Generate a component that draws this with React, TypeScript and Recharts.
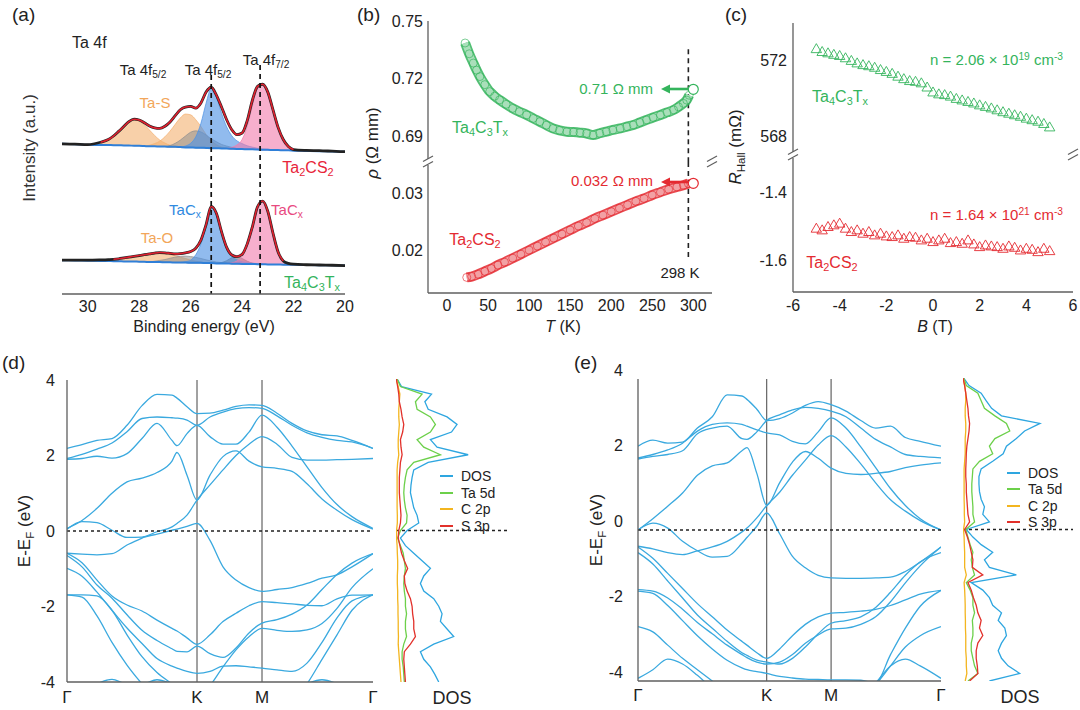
import React from 'react';
import { ComposedChart, Line, Area, Scatter, XAxis, YAxis, ReferenceLine } from 'recharts';

const FONT = '"Liberation Sans", Arial, Helvetica, sans-serif';
const AX = '#5f5f5f';
const GREEN = '#34b45c';
const RED = '#e42a31';
const BAND = '#3aa9df';
const C_DOS = '#2ea6e0';
const C_TA = '#6cd04a';
const C_C = '#f3b51f';
const C_S = '#e2312b';

// ---------------- (a) XPS Ta 4f ----------------
const xpsE = [31, 30.5, 30, 29.5, 29.2, 29, 28.8, 28.6, 28.4, 28.2, 28, 27.8, 27.6, 27.4, 27.2, 27, 26.8, 26.6, 26.4, 26.2, 26, 25.8, 25.6, 25.4, 25.2, 25, 24.8, 24.6, 24.4, 24.2, 24, 23.8, 23.6, 23.4, 23.2, 23, 22.8, 22.6, 22.4, 22.2, 22, 21.5, 21, 20.5, 20];
const ta2Env = [55.4, 55.3, 55.1, 56.0, 57.0, 58.3, 60.0, 61.8, 63.6, 64.5, 64.2, 63.2, 62.0, 61.3, 61.1, 61.9, 63.5, 65.8, 68.0, 69.0, 69.2, 68.6, 70.5, 74.5, 76.3, 73.4, 69.0, 64.3, 60.6, 58.8, 59.4, 64.0, 71.5, 76.6, 77.4, 74.5, 68.0, 61.5, 57.0, 54.4, 53.3, 53.0, 52.9, 52.7, 52.5];
const ta2Base = [55.4, 55.3, 55.1, 55.0, 55.0, 54.9, 54.9, 54.8, 54.8, 54.7, 54.7, 54.6, 54.5, 54.5, 54.4, 54.4, 54.3, 54.3, 54.2, 54.1, 54.1, 54.0, 54.0, 53.9, 53.8, 53.8, 53.7, 53.7, 53.6, 53.5, 53.5, 53.4, 53.4, 53.3, 53.2, 53.2, 53.1, 53.1, 53.0, 53.0, 52.9, 52.8, 52.7, 52.6, 52.5];
const taS1E = [30.5, 30, 29.5, 29.2, 29, 28.8, 28.6, 28.4, 28.2, 28, 27.8, 27.6, 27.4, 27.2, 27, 26.8, 26.6, 26.4];
const taS1H = [0, 0.2, 0.8, 2.0, 3.3, 5.1, 7.0, 8.8, 9.7, 9.3, 7.9, 6.0, 4.0, 2.4, 1.3, 0.6, 0.2, 0];
const taS2E = [27.8, 27.6, 27.4, 27.2, 27, 26.8, 26.6, 26.4, 26.2, 26, 25.8, 25.6, 25.4, 25.2, 25, 24.8, 24.6, 24.4];
const taS2H = [0, 0.4, 1.0, 2.0, 3.6, 5.8, 8.3, 10.8, 12.3, 12.0, 10.3, 7.8, 5.0, 2.8, 1.3, 0.5, 0.1, 0];
const gr1E = [27, 26.8, 26.6, 26.4, 26.2, 26, 25.8, 25.6, 25.4, 25.2, 25, 24.8, 24.6, 24.4, 24.2, 24];
const gr1H = [0, 0.5, 1.3, 2.6, 4.2, 5.6, 6.2, 5.8, 4.8, 3.5, 2.4, 1.5, 0.9, 0.5, 0.2, 0];
const bl1E = [26.4, 26.2, 26, 25.8, 25.6, 25.4, 25.2, 25, 24.8, 24.6, 24.4, 24.2, 24, 23.8, 23.6, 23.4, 23.2, 23, 22.8];
const bl1H = [0, 0.5, 1.5, 4.0, 9.0, 16.5, 22.0, 19.0, 13.0, 8.0, 4.8, 3.0, 2.0, 1.3, 0.8, 0.5, 0.3, 0.2, 0];
const pk1E = [24.6, 24.4, 24.2, 24, 23.8, 23.6, 23.4, 23.2, 23, 22.8, 22.6, 22.4, 22.2, 22, 21.5];
const pk1H = [0, 0.5, 1.5, 3.5, 8.5, 16.0, 22.5, 23.8, 20.5, 14.5, 8.2, 4.0, 1.5, 0.5, 0];

const ta4Env = [12.5, 12.5, 12.5, 12.6, 12.7, 12.8, 13.0, 13.3, 13.6, 13.9, 14.2, 14.5, 14.8, 15.1, 15.3, 15.2, 15.0, 14.8, 14.9, 15.2, 15.7, 16.9, 19.9, 25.6, 32.3, 29.8, 23.0, 17.2, 14.4, 13.8, 14.6, 18.5, 24.8, 32.2, 34.3, 30.5, 22.5, 15.5, 12.2, 11.3, 11.0, 10.8, 10.7, 10.6, 10.5];
const ta4Base = [12.5, 12.4, 12.3, 12.2, 12.2, 12.1, 12.1, 12.0, 12.0, 12.0, 11.9, 11.9, 11.8, 11.8, 11.8, 11.7, 11.7, 11.6, 11.6, 11.6, 11.5, 11.5, 11.5, 11.4, 11.4, 11.3, 11.3, 11.3, 11.2, 11.2, 11.1, 11.1, 11.1, 11.0, 11.0, 10.9, 10.9, 10.9, 10.8, 10.8, 10.8, 10.7, 10.6, 10.6, 10.5];
const taOE = [29.2, 29, 28.8, 28.6, 28.4, 28.2, 28, 27.8, 27.6, 27.4, 27.2, 27, 26.8, 26.6, 26.4, 26.2, 26, 25.8, 25.6, 25.4];
const taOH = [0, 0.3, 0.6, 1.0, 1.4, 1.9, 2.3, 2.7, 3.0, 3.2, 3.3, 3.2, 2.9, 2.5, 2.0, 1.5, 1.0, 0.6, 0.3, 0];
const gr2E = [27.6, 27.4, 27.2, 27, 26.8, 26.6, 26.4, 26.2, 26, 25.8, 25.6, 25.4, 25.2, 25, 24.8, 24.6];
const gr2H = [0, 0.3, 0.6, 1.0, 1.5, 2.0, 2.3, 2.4, 2.3, 2.0, 1.6, 1.2, 0.8, 0.5, 0.3, 0];
const gr3E = [25, 24.8, 24.6, 24.4, 24.2, 24, 23.8, 23.6, 23.4];
const gr3H = [0, 0.3, 1.0, 2.2, 2.6, 2.0, 1.0, 0.3, 0];
const bl2E = [26.4, 26.2, 26, 25.8, 25.6, 25.4, 25.2, 25, 24.8, 24.6, 24.4, 24.2, 24, 23.8, 23.6, 23.4, 23.2];
const bl2H = [0, 0.3, 1.0, 3.0, 7.0, 13.5, 20.3, 17.8, 11.2, 5.5, 2.6, 1.4, 0.8, 0.5, 0.3, 0.2, 0];
const pk2E = [24.6, 24.4, 24.2, 24, 23.8, 23.6, 23.4, 23.2, 23, 22.8, 22.6, 22.4, 22.2, 22];
const pk2H = [0, 0.3, 1.0, 2.8, 7.0, 13.5, 20.8, 23.1, 19.3, 11.5, 4.6, 1.4, 0.4, 0];
const xpsTicks = [30, 28, 26, 24, 22, 20];

// ---------------- (b) resistivity ----------------
const gT = [22, 27, 32, 36, 40, 46, 52, 58, 64, 72, 80, 88, 97, 105, 113, 121, 129, 137, 146, 154, 162, 170, 178, 186, 194, 202, 211, 219, 227, 235, 243, 251, 260, 268, 276, 282, 288, 292, 295];
const gRho = [0.7386, 0.733, 0.7282, 0.7245, 0.7212, 0.717, 0.7134, 0.711, 0.7091, 0.7068, 0.7047, 0.703, 0.7013, 0.6995, 0.6978, 0.696, 0.6943, 0.6933, 0.6926, 0.6924, 0.6921, 0.6917, 0.6909, 0.6918, 0.6926, 0.6935, 0.6943, 0.6952, 0.6961, 0.6974, 0.6987, 0.70, 0.7013, 0.7026, 0.7039, 0.7055, 0.7073, 0.709, 0.7115];
const rT = [24, 30, 38, 46, 54, 62, 70, 80, 90, 100, 110, 120, 130, 140, 150, 160, 170, 180, 190, 200, 210, 220, 230, 240, 250, 260, 270, 280, 288, 294];
const rRho = [0.01535, 0.0155, 0.0159, 0.0164, 0.0169, 0.0175, 0.018, 0.0187, 0.0194, 0.0201, 0.0208, 0.0215, 0.0222, 0.0229, 0.0236, 0.0243, 0.0249, 0.0256, 0.0262, 0.0268, 0.0274, 0.028, 0.0286, 0.0291, 0.0297, 0.0302, 0.0307, 0.0311, 0.0314, 0.0317];
const gEnd = [{ T: 300, rho: 0.7146 }];
const rEnd = [{ T: 300, rho: 0.03174 }];
const tTicks = [0, 50, 100, 150, 200, 250, 300];

// ---------------- (c) Hall ----------------
const hB = [-5, -4.75, -4.5, -4.25, -4, -3.75, -3.5, -3.25, -3, -2.75, -2.5, -2.25, -2, -1.75, -1.5, -1.25, -1, -0.75, -0.5, -0.25, 0, 0.25, 0.5, 0.75, 1, 1.25, 1.5, 1.75, 2, 2.25, 2.5, 2.75, 3, 3.25, 3.5, 3.75, 4, 4.25, 4.5, 4.75, 5];
const hGreen = [572.6, 572.45, 572.38, 572.3, 572.24, 572.12, 571.98, 571.85, 571.76, 571.7, 571.62, 571.5, 571.4, 571.3, 571.15, 571.02, 570.92, 570.88, 570.8, 570.58, 570.32, 570.22, 570.18, 570.1, 569.98, 569.9, 569.82, 569.74, 569.64, 569.56, 569.48, 569.38, 569.28, 569.2, 569.12, 569.04, 568.94, 568.86, 568.78, 568.66, 568.48];
const hRed = [-1.505, -1.51, -1.5, -1.495, -1.49, -1.505, -1.515, -1.51, -1.52, -1.515, -1.525, -1.52, -1.528, -1.53, -1.525, -1.535, -1.53, -1.532, -1.54, -1.535, -1.545, -1.54, -1.535, -1.548, -1.545, -1.55, -1.54, -1.552, -1.56, -1.555, -1.558, -1.56, -1.565, -1.558, -1.562, -1.57, -1.565, -1.568, -1.575, -1.565, -1.572];
const bTicks = [-6, -4, -2, 0, 2, 4, 6];

// ---------------- (d),(e) band structures ----------------
const kPath = [0, 15, 30, 45, 60, 75, 90, 105, 110, 120, 130, 143, 156, 169, 182, 195, 210, 225, 240, 255, 270, 285, 306];
const kTicks = [0, 130, 195, 306];
const kNames: Record<number, string> = { 0: 'Γ', 130: 'K', 195: 'M', 306: 'Γ' };
const dBands = [
  [2.19, 2.29, 2.40, 2.45, 2.80, 3.32, 3.62, 3.60, 3.52, 3.29, 3.11, 3.12, 3.20, 3.30, 3.34, 3.33, 3.12, 2.85, 2.65, 2.55, 2.52, 2.40, 2.19],
  [1.92, 2.03, 2.17, 2.33, 2.63, 2.98, 3.02, 3.00, 2.99, 2.94, 2.80, 3.02, 3.15, 3.24, 3.27, 3.25, 3.05, 2.80, 2.60, 2.48, 2.40, 2.36, 2.19],
  [1.90, 1.92, 1.98, 1.93, 2.05, 2.45, 2.85, 2.40, 2.26, 2.58, 2.80, 2.50, 2.30, 2.30, 2.62, 3.07, 2.75, 2.25, 1.70, 1.15, 0.70, 0.38, 0.07],
  [0.07, 0.28, 0.60, 1.00, 1.30, 1.40, 1.55, 1.85, 2.08, 1.48, 0.82, 1.48, 1.97, 2.12, 1.85, 1.70, 1.66, 1.58, 1.25, 0.85, 0.55, 0.30, 0.05],
  [-0.59, -0.61, -0.63, -0.60, -0.37, -0.19, -0.02, 0.11, 0.20, 0.42, 0.82, 1.22, 1.62, 2.00, 2.30, 2.50, 2.30, 1.95, 1.88, 1.88, 1.89, 1.90, 1.92],
  [0.05, 0.25, 0.22, 0.02, -0.17, -0.16, -0.08, 0.02, 0.05, 0.12, 0.20, -0.25, -0.95, -1.30, -1.50, -1.60, -1.55, -1.50, -1.39, -1.25, -1.16, -0.95, -0.60],
  [-0.59, -0.84, -1.30, -1.72, -1.96, -2.12, -2.36, -2.58, -2.65, -2.83, -3.00, -2.75, -2.40, -2.18, -1.98, -1.87, -1.90, -1.93, -1.97, -1.98, -1.80, -1.70, -1.69],
  [-0.65, -0.95, -1.43, -1.78, -2.22, -2.63, -2.90, -3.12, -3.19, -3.20, -3.05, -3.25, -3.35, -3.10, -2.70, -2.44, -2.35, -2.20, -1.96, -1.55, -1.15, -0.85, -0.60],
  [-0.99, -1.20, -1.62, -2.10, -2.57, -2.98, -3.38, -3.58, -3.63, -3.72, -3.77, -3.72, -3.58, -3.57, -3.60, -3.63, -3.68, -3.72, -3.50, -2.95, -2.30, -1.85, -1.69],
  [-1.69, -1.69, -1.72, -2.10, -2.75, -3.33, -3.75, -4.05, -4.15, -4.35, -4.50, -4.10, -3.60, -3.15, -2.80, -2.58, -2.63, -2.66, -2.62, -2.45, -2.05, -1.50, -1.00],
  [-1.69, -1.75, -2.25, -2.95, -3.55, -4.05, -4.50, -4.80, -4.85, -4.90, -4.90, -4.90, -4.90, -4.90, -4.85, -4.80, -4.70, -4.55, -4.05, -3.40, -2.75, -2.10, -1.69],
  [-4.60, -4.30, -4.05, -3.93, -4.05, -4.05, -3.94, -4.05, -4.10, -4.40, -4.60, -4.60, -4.60, -4.60, -4.60, -4.60, -4.50, -4.30, -4.05, -3.94, -4.05, -4.30, -4.60],
];
const eBands = [
  [2.22, 2.38, 2.30, 2.33, 2.70, 3.00, 3.58, 3.55, 3.46, 3.20, 2.90, 2.95, 3.10, 3.30, 3.40, 3.32, 3.15, 2.90, 2.70, 2.75, 2.45, 2.35, 2.22],
  [1.91, 2.00, 2.12, 2.30, 2.62, 2.80, 2.84, 2.80, 2.75, 2.65, 2.57, 2.52, 2.35, 2.28, 2.60, 2.97, 2.70, 2.20, 1.65, 1.10, 0.65, 0.30, 0.00],
  [1.88, 1.95, 2.00, 2.10, 2.55, 2.70, 2.75, 2.42, 2.40, 2.60, 2.90, 3.05, 3.18, 3.25, 3.22, 3.15, 3.00, 2.70, 2.40, 2.20, 2.00, 1.95, 1.91],
  [0.00, 0.30, 0.63, 0.98, 1.45, 1.70, 1.78, 2.10, 2.18, 1.50, 0.65, 1.25, 1.80, 2.08, 1.90, 1.64, 1.50, 1.47, 1.50, 1.55, 1.65, 1.72, 1.78],
  [-0.43, -0.50, -0.60, -0.65, -0.55, -0.45, -0.30, -0.05, 0.05, 0.32, 0.65, 1.00, 1.45, 1.85, 2.25, 2.50, 2.20, 1.75, 1.25, 0.80, 0.50, 0.25, 0.00],
  [0.00, 0.18, 0.05, -0.30, -0.55, -0.72, -0.70, -0.35, -0.20, 0.10, 0.45, -0.10, -0.70, -1.00, -1.20, -1.27, -1.28, -1.28, -1.27, -1.25, -1.10, -0.85, -0.45],
  [-0.45, -0.75, -1.15, -1.55, -1.95, -2.30, -2.65, -2.95, -3.05, -3.25, -3.40, -3.15, -2.80, -2.50, -2.30, -2.20, -2.18, -2.15, -2.10, -2.00, -1.85, -1.70, -1.60],
  [-0.60, -0.90, -1.35, -1.80, -2.25, -2.60, -2.95, -3.25, -3.32, -3.45, -3.50, -3.55, -3.40, -3.10, -2.75, -2.47, -2.40, -2.30, -2.05, -1.65, -1.20, -0.85, -0.60],
  [-1.58, -1.62, -1.80, -2.10, -2.45, -2.75, -3.05, -3.30, -3.38, -3.50, -3.55, -3.50, -3.30, -3.00, -2.78, -2.62, -2.60, -2.50, -2.30, -1.90, -1.40, -0.95, -0.45],
  [-1.62, -1.68, -2.00, -2.40, -2.80, -3.15, -3.45, -3.65, -3.70, -3.75, -3.80, -3.88, -3.92, -3.95, -3.96, -3.97, -3.97, -3.98, -4.05, -3.30, -2.60, -2.02, -1.60],
  [-2.56, -2.70, -3.05, -3.40, -3.70, -4.00, -4.30, -4.60, -4.70, -4.80, -4.80, -4.80, -4.80, -4.80, -4.80, -4.80, -4.70, -4.50, -4.10, -3.60, -3.10, -2.80, -2.56],
  [-3.93, -3.70, -3.42, -3.55, -3.85, -4.20, -4.50, -4.60, -4.60, -4.60, -4.60, -4.60, -4.60, -4.60, -4.60, -4.60, -4.60, -4.40, -4.05, -3.60, -3.42, -3.60, -3.93],
];
const eTicks = [-4, -2, 0, 2, 4];

// ---------------- DOS ----------------
const dosE = [4.0, 3.8, 3.6, 3.4, 3.2, 3.0, 2.8, 2.6, 2.4, 2.2, 2.0, 1.8, 1.6, 1.4, 1.2, 1.0, 0.8, 0.6, 0.4, 0.2, 0.0, -0.2, -0.4, -0.6, -0.8, -1.0, -1.2, -1.4, -1.6, -1.8, -2.0, -2.2, -2.4, -2.6, -2.8, -3.0, -3.2, -3.4, -3.6, -3.8, -4.0];
const dDos = [0.1, 0.5, 3.2, 2.6, 2.9, 4.6, 5.5, 5.0, 3.1, 3.7, 6.5, 2.9, 1.6, 1.45, 1.35, 1.3, 1.45, 1.6, 1.9, 2.05, 1.0, 0.4, 0.85, 1.6, 2.35, 3.1, 2.5, 2.2, 2.5, 3.4, 3.85, 4.15, 4.0, 4.6, 5.2, 3.4, 2.2, 2.5, 3.1, 3.5, 3.85];
const dTa5d = [0.1, 0.4, 2.35, 1.75, 1.9, 3.1, 3.55, 3.1, 1.9, 2.5, 4.0, 1.6, 1.0, 0.85, 0.75, 0.7, 0.75, 0.85, 1.0, 0.95, 0.4, 0.15, 0.4, 0.65, 0.75, 0.85, 0.75, 0.7, 0.75, 0.85, 0.85, 0.95, 0.85, 0.85, 0.95, 0.7, 0.55, 0.55, 0.65, 0.7, 0.75];
const dC2p = [0.02, 0.2, 0.35, 0.3, 0.25, 0.25, 0.3, 0.25, 0.2, 0.2, 0.25, 0.15, 0.1, 0.1, 0.1, 0.1, 0.1, 0.1, 0.12, 0.12, 0.05, 0.05, 0.1, 0.12, 0.15, 0.15, 0.12, 0.12, 0.15, 0.15, 0.18, 0.18, 0.2, 0.2, 0.22, 0.2, 0.25, 0.3, 0.35, 0.4, 0.45];
const dS3p = [0.03, 0.15, 0.25, 0.3, 0.45, 0.55, 0.7, 0.6, 0.4, 0.45, 0.55, 0.4, 0.35, 0.3, 0.3, 0.3, 0.35, 0.4, 0.45, 0.4, 0.25, 0.2, 0.35, 0.5, 0.75, 1.05, 0.75, 0.8, 1.0, 1.3, 1.45, 1.5, 1.6, 1.6, 1.75, 1.3, 0.75, 0.7, 0.75, 0.8, 0.85];
const eDos = [0.06, 0.55, 1.65, 2.1, 2.6, 3.5, 7.0, 5.6, 4.85, 3.95, 3.65, 2.7, 1.65, 1.45, 1.45, 1.5, 1.65, 1.95, 1.8, 2.4, 0.3, 0.9, 1.65, 2.7, 1.95, 2.4, 4.85, 0.75, 1.8, 2.4, 2.7, 3.5, 3.2, 3.8, 3.95, 3.5, 3.2, 3.5, 4.1, 5.15, 2.4];
const eTa5d = [0.06, 0.3, 1.35, 1.65, 1.95, 2.9, 3.95, 4.25, 2.9, 2.4, 2.7, 1.5, 0.9, 0.85, 0.8, 0.8, 0.85, 0.9, 0.9, 1.05, 0.25, 0.45, 0.65, 0.9, 0.75, 0.85, 1.05, 0.3, 0.65, 0.9, 0.9, 1.05, 0.85, 0.9, 0.9, 0.75, 0.75, 0.9, 1.05, 1.35, 0.45];
const eC2p = [0.02, 0.15, 0.25, 0.25, 0.2, 0.2, 0.25, 0.25, 0.2, 0.2, 0.2, 0.15, 0.1, 0.1, 0.1, 0.1, 0.1, 0.12, 0.12, 0.15, 0.05, 0.1, 0.12, 0.15, 0.15, 0.15, 0.3, 0.1, 0.15, 0.18, 0.2, 0.2, 0.22, 0.22, 0.25, 0.25, 0.25, 0.3, 0.3, 0.35, 0.2];
const eS3p = [0.0, 0.15, 0.25, 0.35, 0.45, 0.5, 0.6, 0.55, 0.45, 0.35, 0.3, 0.28, 0.25, 0.25, 0.3, 0.3, 0.35, 0.4, 0.45, 0.6, 0.15, 0.4, 0.6, 0.75, 0.9, 0.85, 1.8, 0.45, 0.75, 0.95, 1.2, 1.35, 1.65, 1.5, 1.8, 1.35, 1.2, 1.2, 1.3, 1.35, 0.6];
const dosLegend = ['DOS', 'Ta 5d', 'C 2p', 'S 3p'];

// ---------------- table builders ----------------
const compMap = (es: number[], hs: number[]) => new Map(es.map((e, i) => [e, hs[i]]));
const range = (m: Map<number, number>, e: number, b: number) => (m.has(e) ? [b, b + (m.get(e) as number)] : null);

const mTaS1 = compMap(taS1E, taS1H), mTaS2 = compMap(taS2E, taS2H), mGr1 = compMap(gr1E, gr1H), mBl1 = compMap(bl1E, bl1H), mPk1 = compMap(pk1E, pk1H);
const mTaO = compMap(taOE, taOH), mGr2 = compMap(gr2E, gr2H), mGr3 = compMap(gr3E, gr3H), mBl2 = compMap(bl2E, bl2H), mPk2 = compMap(pk2E, pk2H);

const xpsRows = xpsE.map((e, i) => ({
  e,
  base1: ta2Base[i], data1: ta2Env[i], fit1: i >= 3 && i <= 40 ? ta2Env[i] : null,
  s1: range(mTaS1, e, ta2Base[i]), s2: range(mTaS2, e, ta2Base[i]), g1: range(mGr1, e, ta2Base[i]),
  b1: range(mBl1, e, ta2Base[i]), p1: range(mPk1, e, ta2Base[i]),
  base2: ta4Base[i], data2: ta4Env[i], fit2: i >= 5 && i <= 38 ? ta4Env[i] : null,
  o2: range(mTaO, e, ta4Base[i]), g2: range(mGr2, e, ta4Base[i]), g3: range(mGr3, e, ta4Base[i]),
  b2: range(mBl2, e, ta4Base[i]), p2: range(mPk2, e, ta4Base[i]),
}));
const gRows = gT.map((T, i) => ({ T, rho: gRho[i] }));
const rRows = rT.map((T, i) => ({ T, rho: rRho[i] }));
const hgRows = hB.map((B, i) => ({ B, R: hGreen[i] }));
const hrRows = hB.map((B, i) => ({ B, R: hRed[i] }));
const bandRows = (bands: number[][]) => kPath.map((k, j) => {
  const row: any = { k };
  bands.forEach((b, i) => { row['b' + i] = b[j]; });
  return row;
});
const dRows = bandRows(dBands);
const eRows = bandRows(eBands);
const dosRows = (vals: number[]) => dosE.map((e, i) => ({ e, v: vals[i] }));

// ---------------- helpers ----------------
type Box = { x: number; y: number; w: number; h: number };
const axLine = { stroke: AX, strokeWidth: 1.3 };

function Chart({ box, yw, xh, data, mt = 14, children }: { box: Box; yw: number; xh: number; data?: any[]; mt?: number; children: React.ReactNode }) {
  const mr = 12, ml = 4, mb = 6;
  return (
    <div style={{ position: 'absolute', left: box.x - yw - ml, top: box.y - mt }}>
      <ComposedChart width={ml + yw + box.w + mr} height={mt + box.h + xh + mb} margin={{ top: mt, right: mr, bottom: mb, left: ml }} data={data}>
        {children}
      </ComposedChart>
    </div>
  );
}

const mkTick = (o: { anchor: 'start' | 'middle' | 'end'; dx?: number; dy?: number; size?: number; fmt?: (v: any) => string }) => (p: any) => (
  <text x={p.x + (o.dx || 0)} y={p.y + (o.dy || 0)} textAnchor={o.anchor} dominantBaseline="central" fontSize={o.size || 15} fill="#222" fontFamily={FONT}>
    {o.fmt ? o.fmt(p.payload.value) : String(p.payload.value)}
  </text>
);

const Sub = ({ children }: any) => <span style={{ fontSize: '0.68em', position: 'relative', top: '0.32em' }}>{children}</span>;
const Sup = ({ children }: any) => <span style={{ fontSize: '0.68em', position: 'relative', top: '-0.45em' }}>{children}</span>;

function Txt({ x, y, c = '#222', s = 15, a = 'c', rot, children, italic }: any) {
  const tx = a === 'c' ? '-50%' : a === 'r' ? '-100%' : '0';
  return (
    <div style={{ position: 'absolute', left: x, top: y, transform: `translate(${tx}, -50%)${rot ? ` rotate(${rot}deg)` : ''}`, color: c, fontSize: s, lineHeight: 1.15, whiteSpace: 'nowrap', fontStyle: italic ? 'italic' : 'normal' }}>
      {children}
    </div>
  );
}

const circleShape = (c: string) => (p: any) => <circle cx={p.cx} cy={p.cy} r={5} fill="#fff" stroke={c} strokeWidth={1.2} />;
const triShape = (c: string) => (p: any) => (
  <polygon points={`${p.cx},${p.cy - 5} ${p.cx - 5.2},${p.cy + 4} ${p.cx + 5.2},${p.cy + 4}`} fill="none" stroke={c} strokeWidth={0.9} />
);
const noShape = () => <g />;

function BandPanel({ box, rows, n, yDx, yDy, xDy }: { box: Box; rows: any[]; n: number; yDx: number; yDy: number; xDy: number }) {
  return (
    <Chart box={box} yw={40} xh={30} data={rows} mt={24}>
      <XAxis dataKey="k" type="number" domain={[0, 306]} ticks={kTicks} allowDataOverflow height={30} tickLine={false} axisLine={axLine}
        tick={mkTick({ anchor: 'middle', dy: xDy, size: 17, fmt: (v) => kNames[v] })} />
      <XAxis xAxisId="top" orientation="top" height={0} tick={false} tickLine={false} axisLine={axLine} />
      <YAxis type="number" domain={[-4, 4]} ticks={eTicks} allowDataOverflow width={40} tickLine={false} axisLine={axLine}
        tick={mkTick({ anchor: 'end', dx: yDx, dy: yDy, size: 16 })} />
      <YAxis yAxisId="right" orientation="right" width={0} tick={false} tickLine={false} axisLine={axLine} />
      <ReferenceLine x={130} stroke="#444" strokeWidth={1} />
      <ReferenceLine x={195} stroke="#444" strokeWidth={1} />
      {Array.from({ length: n }, (_, i) => (
        <Line key={i} dataKey={'b' + i} type="monotone" stroke={BAND} strokeWidth={1.3} dot={false} isAnimationActive={false} />
      ))}
      <ReferenceLine y={0} stroke="#222" strokeWidth={1.6} strokeDasharray="3 3" />
    </Chart>
  );
}

function DosPanel({ box, dos, ta, c, s }: { box: Box; dos: number[]; ta: number[]; c: number[]; s: number[] }) {
  const series: [number[], string][] = [[dos, C_DOS], [ta, C_TA], [c, C_C], [s, C_S]];
  return (
    <Chart box={box} yw={0} xh={0}>
      <XAxis dataKey="v" type="number" domain={[0, 10]} allowDataOverflow height={0} tick={false} tickLine={false} axisLine={axLine} />
      <XAxis xAxisId="top" orientation="top" height={0} tick={false} tickLine={false} axisLine={axLine} />
      <YAxis dataKey="e" type="number" domain={[-4, 4]} allowDataOverflow width={0} tick={false} tickLine={false} axisLine={axLine} />
      <YAxis yAxisId="right" orientation="right" width={0} tick={false} tickLine={false} axisLine={axLine} />
      <ReferenceLine y={0} stroke="#222" strokeWidth={1.6} strokeDasharray="3 3" />
      {series.map(([vals, col], i) => (
        <Scatter key={i} data={dosRows(vals)} line={{ stroke: col, strokeWidth: 1.3 }} lineType="joint" shape={noShape} isAnimationActive={false} />
      ))}
    </Chart>
  );
}

function Legend({ x, y, dy }: { x: number; y: number; dy: number }) {
  const cols = [C_DOS, C_TA, C_C, C_S];
  return (
    <>
      {dosLegend.map((l, i) => (
        <React.Fragment key={l}>
          <div style={{ position: 'absolute', left: x, top: y + i * dy - 1, width: 13, height: 2, background: cols[i] }} />
          <Txt x={x + 21} y={y + i * dy} a="l" s={14}>{l}</Txt>
        </React.Fragment>
      ))}
    </>
  );
}

function Breaks({ pts }: { pts: [number, number][] }) {
  return (
    <svg width={1080} height={710} style={{ position: 'absolute', left: 0, top: 0, pointerEvents: 'none' }}>
      {pts.map(([x, y], i) => (
        <g key={i}>
          <rect x={x - 4} y={y - 3} width={8} height={6} fill="#fff" />
          <line x1={x - 5} y1={y - 0.5} x2={x + 5} y2={y - 6} stroke={AX} strokeWidth={1.2} />
          <line x1={x - 5} y1={y + 5} x2={x + 5} y2={y - 0.5} stroke={AX} strokeWidth={1.2} />
        </g>
      ))}
      <line x1={688} y1={89} x2={668} y2={89} stroke={GREEN} strokeWidth={2.6} />
      <polygon points="661,89 670,84.5 670,93.5" fill={GREEN} />
      <line x1={688} y1={182} x2={668} y2={182} stroke={RED} strokeWidth={2.6} />
      <polygon points="661,182 670,177.5 670,186.5" fill={RED} />
    </svg>
  );
}

export default function App() {
  const xpsBox: Box = { x: 62, y: 23, w: 283, h: 271 };
  const bUp: Box = { x: 428, y: 21, w: 284, h: 141 };
  const bLo: Box = { x: 428, y: 162, w: 284, h: 131 };
  const cUp: Box = { x: 793, y: 23, w: 280, h: 132 };
  const cLo: Box = { x: 793, y: 155, w: 280, h: 137 };
  const fill = (c: string, op = 0.6) => ({ fill: c, fillOpacity: op, stroke: c, strokeOpacity: 0.9, strokeWidth: 0.8 });
  return (
    <div style={{ position: 'absolute', left: 0, top: 0, width: 1080, height: 710, background: '#fff', fontFamily: FONT, color: '#222', overflow: 'hidden' }}>
      {/* (a) */}
      <Chart box={xpsBox} yw={0} xh={30} data={xpsRows}>
        <XAxis dataKey="e" type="number" domain={[20, 31]} reversed ticks={xpsTicks} allowDataOverflow height={30} tickLine={false} axisLine={axLine}
          tick={mkTick({ anchor: 'middle', dy: 4, size: 16 })} />
        <XAxis xAxisId="top" orientation="top" height={0} tick={false} tickLine={false} axisLine={axLine} />
        <YAxis type="number" domain={[0, 100]} width={0} tick={false} tickLine={false} axisLine={axLine} />
        <YAxis yAxisId="right" orientation="right" width={0} tick={false} tickLine={false} axisLine={axLine} />
        <Area dataKey="s1" type="monotone" {...fill('#f4b070', 0.6)} isAnimationActive={false} />
        <Area dataKey="s2" type="monotone" {...fill('#f4b070', 0.6)} isAnimationActive={false} />
        <Area dataKey="g1" type="monotone" {...fill('#8f8f8f', 0.55)} isAnimationActive={false} />
        <Area dataKey="b1" type="monotone" {...fill('#4e92e3', 0.62)} isAnimationActive={false} />
        <Area dataKey="p1" type="monotone" {...fill('#f27aab', 0.6)} isAnimationActive={false} />
        <Area dataKey="o2" type="monotone" {...fill('#f4b070', 0.6)} isAnimationActive={false} />
        <Area dataKey="g2" type="monotone" {...fill('#8f8f8f', 0.55)} isAnimationActive={false} />
        <Area dataKey="g3" type="monotone" {...fill('#707070', 0.6)} isAnimationActive={false} />
        <Area dataKey="b2" type="monotone" {...fill('#4e92e3', 0.62)} isAnimationActive={false} />
        <Area dataKey="p2" type="monotone" {...fill('#f27aab', 0.6)} isAnimationActive={false} />
        <Line dataKey="base1" type="monotone" stroke="#2f7fd8" strokeWidth={2} dot={false} isAnimationActive={false} />
        <Line dataKey="base2" type="monotone" stroke="#2f7fd8" strokeWidth={2} dot={false} isAnimationActive={false} />
        <Line dataKey="data1" type="monotone" stroke="#222" strokeWidth={2.8} dot={false} isAnimationActive={false} />
        <Line dataKey="data2" type="monotone" stroke="#222" strokeWidth={2.8} dot={false} isAnimationActive={false} />
        <Line dataKey="fit1" type="monotone" stroke="#e0202f" strokeWidth={1.6} dot={false} isAnimationActive={false} />
        <Line dataKey="fit2" type="monotone" stroke="#e0202f" strokeWidth={1.6} dot={false} isAnimationActive={false} />
        <ReferenceLine segment={[{ x: 25.2, y: 80.8 }, { x: 25.2, y: 0 }]} stroke="#111" strokeWidth={1.7} strokeDasharray="5 4" />
        <ReferenceLine segment={[{ x: 23.3, y: 84.5 }, { x: 23.3, y: 0 }]} stroke="#111" strokeWidth={1.7} strokeDasharray="5 4" />
      </Chart>

      {/* (b) upper */}
      <Chart box={bUp} yw={45} xh={0} data={gRows}>
        <XAxis dataKey="T" type="number" domain={[-23.2, 322.8]} allowDataOverflow hide />
        <XAxis xAxisId="top" orientation="top" height={0} tick={false} tickLine={false} axisLine={axLine} />
        <YAxis dataKey="rho" type="number" domain={[0.6769, 0.75]} ticks={[0.69, 0.72, 0.75]} allowDataOverflow width={45} tickLine={false} axisLine={axLine}
          tick={mkTick({ anchor: 'end', dx: 3, size: 16, fmt: (v) => v.toFixed(2) })} />
        <YAxis yAxisId="right" orientation="right" width={0} tick={false} tickLine={false} axisLine={axLine} />
        <ReferenceLine segment={[{ x: 294, y: 0.7354 }, { x: 294, y: 0.6769 }]} stroke="#222" strokeWidth={1.6} strokeDasharray="5 4" />
        <Line dataKey="rho" type="monotone" stroke={GREEN} strokeOpacity={0.85} strokeWidth={10} dot={false} isAnimationActive={false} />
        <Line dataKey="rho" type="monotone" stroke="#a9dfba" strokeWidth={6.5} dot={{ r: 4, stroke: GREEN, strokeWidth: 0.8, fill: 'none', strokeOpacity: 0.8 }} isAnimationActive={false} />
        <Scatter data={gEnd} shape={circleShape(GREEN)} isAnimationActive={false} />
      </Chart>

      {/* (b) lower */}
      <Chart box={bLo} yw={45} xh={30} data={rRows}>
        <XAxis dataKey="T" type="number" domain={[-23.2, 322.8]} ticks={tTicks} allowDataOverflow height={30} tickLine={false} axisLine={axLine}
          tick={mkTick({ anchor: 'middle', dy: 4, size: 16 })} />
        <YAxis dataKey="rho" type="number" domain={[0.01263, 0.03545]} ticks={[0.02, 0.03]} allowDataOverflow width={45} tickLine={false} axisLine={axLine}
          tick={mkTick({ anchor: 'end', dx: 3, size: 16, fmt: (v) => v.toFixed(2) })} />
        <YAxis yAxisId="right" orientation="right" width={0} tick={false} tickLine={false} axisLine={axLine} />
        <ReferenceLine segment={[{ x: 294, y: 0.03545 }, { x: 294, y: 0.0184 }]} stroke="#222" strokeWidth={1.6} strokeDasharray="5 4" />
        <Line dataKey="rho" type="monotone" stroke={RED} strokeOpacity={0.85} strokeWidth={10} dot={false} isAnimationActive={false} />
        <Line dataKey="rho" type="monotone" stroke="#f2a1a4" strokeWidth={6.5} dot={{ r: 4, stroke: RED, strokeWidth: 0.8, fill: 'none', strokeOpacity: 0.8 }} isAnimationActive={false} />
        <Scatter data={rEnd} shape={circleShape(RED)} isAnimationActive={false} />
      </Chart>

      {/* (c) upper */}
      <Chart box={cUp} yw={45} xh={0}>
        <XAxis dataKey="B" type="number" domain={[-6, 6]} allowDataOverflow hide />
        <XAxis xAxisId="top" orientation="top" height={0} tick={false} tickLine={false} axisLine={axLine} />
        <YAxis dataKey="R" type="number" domain={[567, 573.95]} ticks={[568, 572]} allowDataOverflow width={45} tickLine={false} axisLine={axLine}
          tick={mkTick({ anchor: 'end', dx: 2, size: 16 })} />
        <YAxis yAxisId="right" orientation="right" width={0} tick={false} tickLine={false} axisLine={axLine} />
        <Scatter data={hgRows} shape={triShape(GREEN)} isAnimationActive={false} />
      </Chart>

      {/* (c) lower */}
      <Chart box={cLo} yw={45} xh={30}>
        <XAxis dataKey="B" type="number" domain={[-6, 6]} ticks={bTicks} allowDataOverflow height={30} tickLine={false} axisLine={axLine}
          tick={mkTick({ anchor: 'middle', dy: 5, size: 16 })} />
        <YAxis dataKey="R" type="number" domain={[-1.6955, -1.2866]} ticks={[-1.6, -1.4]} allowDataOverflow width={45} tickLine={false} axisLine={axLine}
          tick={mkTick({ anchor: 'end', dx: 2, size: 16, fmt: (v) => v.toFixed(1) })} />
        <YAxis yAxisId="right" orientation="right" width={0} tick={false} tickLine={false} axisLine={axLine} />
        <Scatter data={hrRows} shape={triShape(RED)} isAnimationActive={false} />
      </Chart>

      {/* (d) */}
      <BandPanel box={{ x: 67, y: 380, w: 306, h: 302 }} rows={dRows} n={dBands.length} yDx={-4} yDy={0} xDy={7} />
      <DosPanel box={{ x: 396, y: 379, w: 111, h: 303 }} dos={dDos} ta={dTa5d} c={dC2p} s={dS3p} />
      {/* (e) */}
      <BandPanel box={{ x: 638, y: 379, w: 303, h: 302 }} rows={eRows} n={eBands.length} yDx={-7} yDy={-9} xDy={6} />
      <DosPanel box={{ x: 963, y: 378, w: 110, h: 303 }} dos={eDos} ta={eTa5d} c={eC2p} s={eS3p} />

      <Breaks pts={[[428, 162], [712, 162], [793, 155], [1073, 155]]} />

      {/* panel labels */}
      <Txt x={12} y={15} a="l" s={19}>(a)</Txt>
      <Txt x={357} y={15} a="l" s={19}>(b)</Txt>
      <Txt x={725} y={15} a="l" s={19}>(c)</Txt>
      <Txt x={2} y={363} a="l" s={19}>(d)</Txt>
      <Txt x={574} y={363} a="l" s={19}>(e)</Txt>

      {/* (a) texts */}
      <Txt x={72} y={43} a="l" s={16}>Ta 4f</Txt>
      <Txt x={143} y={70} s={15}>Ta 4f<Sub>5/2</Sub></Txt>
      <Txt x={208} y={70} s={15}>Ta 4f<Sub>5/2</Sub></Txt>
      <Txt x={266} y={60} s={15}>Ta 4f<Sub>7/2</Sub></Txt>
      <Txt x={155} y={103} s={15} c="#f2a65a">Ta-S</Txt>
      <Txt x={308} y={168} s={16} c="#e8253a">Ta<Sub>2</Sub>CS<Sub>2</Sub></Txt>
      <Txt x={185} y={210} s={15} c="#2f8ae0">TaC<Sub>x</Sub></Txt>
      <Txt x={287} y={210} s={15} c="#e84a7f">TaC<Sub>x</Sub></Txt>
      <Txt x={157} y={238} s={15} c="#f2a65a">Ta-O</Txt>
      <Txt x={312} y={283} s={16} c={GREEN}>Ta<Sub>4</Sub>C<Sub>3</Sub>T<Sub>x</Sub></Txt>
      <Txt x={30} y={148} s={17} rot={-90} c="#333">Intensity (a.u.)</Txt>
      <Txt x={204} y={327} s={16}>Binding energy (eV)</Txt>

      {/* (b) texts */}
      <Txt x={373} y={143} s={17} rot={-90}><i>ρ</i> (Ω mm)</Txt>
      <Txt x={563} y={327} s={16}><i>T</i> (K)</Txt>
      <Txt x={653} y={89} a="r" s={15} c={GREEN}>0.71 Ω mm</Txt>
      <Txt x={653} y={181} a="r" s={15} c={RED}>0.032 Ω mm</Txt>
      <Txt x={480} y={128} s={16} c={GREEN}>Ta<Sub>4</Sub>C<Sub>3</Sub>T<Sub>x</Sub></Txt>
      <Txt x={475} y={240} s={16} c={RED}>Ta<Sub>2</Sub>CS<Sub>2</Sub></Txt>
      <Txt x={680} y={273} s={15}>298 K</Txt>

      {/* (c) texts */}
      <Txt x={736} y={147} s={17} rot={-90}><i>R</i><Sub>Hall</Sub> (mΩ)</Txt>
      <Txt x={935} y={327} s={16}><i>B</i> (T)</Txt>
      <Txt x={1063} y={60} a="r" s={15} c={GREEN}>n = 2.06 × 10<Sup>19</Sup> cm<Sup>-3</Sup></Txt>
      <Txt x={840} y={97} s={16} c={GREEN}>Ta<Sub>4</Sub>C<Sub>3</Sub>T<Sub>x</Sub></Txt>
      <Txt x={1063} y={215} a="r" s={15} c={RED}>n = 1.64 × 10<Sup>21</Sup> cm<Sup>-3</Sup></Txt>
      <Txt x={832} y={263} s={16} c={RED}>Ta<Sub>2</Sub>CS<Sub>2</Sub></Txt>

      {/* (d),(e) texts */}
      <Txt x={25} y={531} s={17} rot={-90}>E-E<Sub>F</Sub> (eV)</Txt>
      <Txt x={597} y={530} s={17} rot={-90}>E-E<Sub>F</Sub> (eV)</Txt>
      <Txt x={452} y={698} s={18}>DOS</Txt>
      <Txt x={1020} y={697} s={18}>DOS</Txt>
      <Legend x={440} y={476} dy={16.5} />
      <Legend x={1007} y={473} dy={16.4} />
    </div>
  );
}
